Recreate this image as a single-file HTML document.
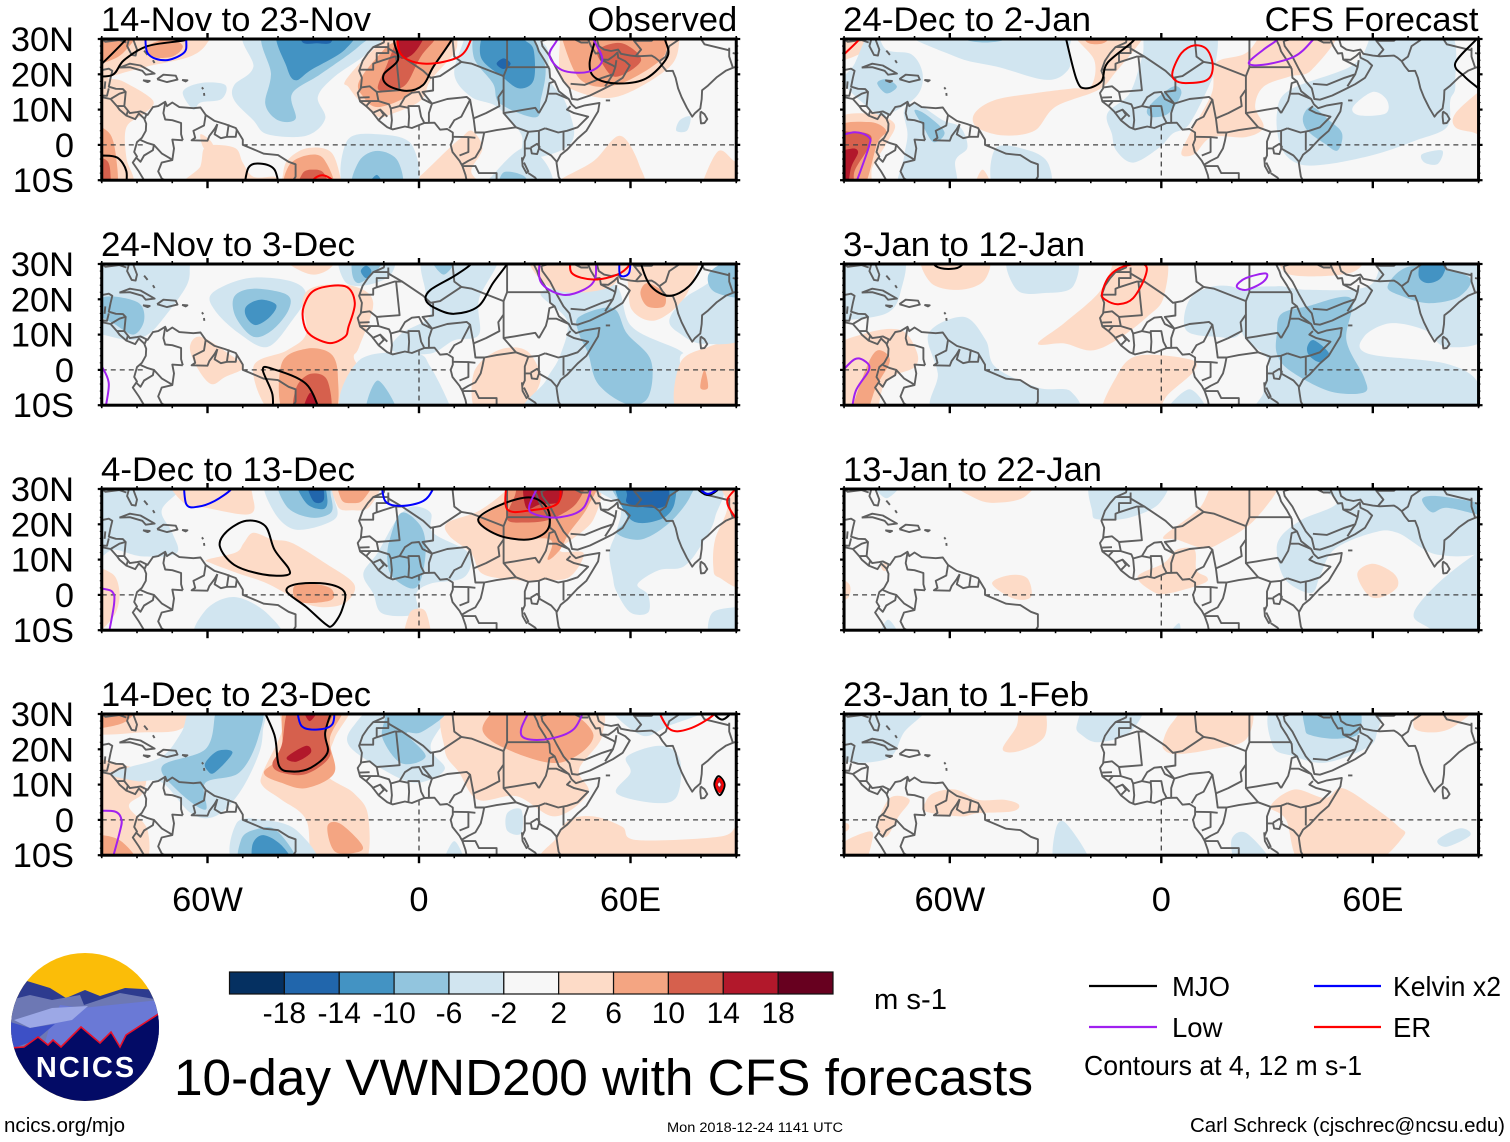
<!DOCTYPE html>
<html lang="en">
<head>
<meta charset="utf-8">
<title>10-day VWND200 with CFS forecasts</title>
<style>
html,body{margin:0;padding:0;background:#fff;}
svg{display:block;}
text{font-family:"Liberation Sans",sans-serif;fill:#000;}
</style>
</head>
<body>
<svg id="chart" xmlns="http://www.w3.org/2000/svg" width="1510" height="1142" viewBox="0 0 1510 1142">
  <g id="panels"></g>
  <g>
    <defs><clipPath id="logoClip"><ellipse cx="85" cy="1027" rx="74" ry="74"/></clipPath></defs>
    <g clip-path="url(#logoClip)">
      <rect x="10" y="950" width="150" height="155" fill="#fbbd08"/>
      <polygon points="10,1000 27,981 50,988 66,998 85,990 100,996 125,988 160,990 160,1060 10,1060" fill="#2d3b8f"/>
      <polygon points="10,1000 30,995 52,1000 80,995 84,1005 120,993 160,1000 160,1060 10,1060" fill="#6d78b4"/>
      <polygon points="60,1005 82,1008 160,1000 160,1060 40,1060 50,1025" fill="#6a79d6"/>
      <polygon points="14,1020 52,1008 88,1006 72,1020 30,1028" fill="#9ca8e6"/>
      <polygon points="10,1022 30,1028 55,1024 36,1040 14,1048 10,1048" fill="#3d50c6"/>
      <polygon points="10,1048 24,1047 38,1037 48,1045 53,1040 61,1047 81,1027 100,1043 111,1032 120,1047 126,1035 160,1013 160,1105 10,1105" fill="#030b66"/>
      <polyline points="10,1048 24,1047 38,1037 48,1045 53,1040 61,1047 81,1027 100,1043 111,1032 120,1047 126,1035 160,1013" fill="none" stroke="#e8102a" stroke-width="1.6"/>
    </g>
    <text x="86" y="1077" text-anchor="middle" font-size="29" font-weight="bold" letter-spacing="2" style="fill:#fff">NCICS</text>
  </g>
  <g id="colorbar"></g>
  <text x="874" y="1009" font-size="29" textLength="73" lengthAdjust="spacingAndGlyphs">m s-1</text>
  <text x="174" y="1095" font-size="51" textLength="859" lengthAdjust="spacingAndGlyphs">10-day VWND200 with CFS forecasts</text>
  <g>
    <line x1="1089" x2="1157" y1="986" y2="986" stroke="#000" stroke-width="2.2"/>
    <text x="1172" y="996" font-size="27.5">MJO</text>
    <line x1="1089" x2="1157" y1="1027" y2="1027" stroke="#a020f0" stroke-width="2.2"/>
    <text x="1172" y="1037" font-size="27.5">Low</text>
    <line x1="1314" x2="1381" y1="986" y2="986" stroke="#0000ff" stroke-width="2.2"/>
    <text x="1393" y="996" font-size="27.5" textLength="108" lengthAdjust="spacingAndGlyphs">Kelvin x2</text>
    <line x1="1314" x2="1381" y1="1027" y2="1027" stroke="#ff0000" stroke-width="2.2"/>
    <text x="1393" y="1037" font-size="27.5">ER</text>
    <text x="1084" y="1075" font-size="27.5" textLength="278" lengthAdjust="spacingAndGlyphs">Contours at 4, 12 m s-1</text>
  </g>
  <text x="4" y="1132" font-size="20.5" textLength="121" lengthAdjust="spacingAndGlyphs">ncics.org/mjo</text>
  <text x="667" y="1132" font-size="13.4" textLength="176" lengthAdjust="spacingAndGlyphs">Mon 2018-12-24 1141 UTC</text>
  <text x="1190" y="1132" font-size="20.3" textLength="315" lengthAdjust="spacingAndGlyphs">Carl Schreck (cjschrec@ncsu.edu)</text>
</svg>
<script>
/* ---------- axes & colour scale values ---------- */
const lonMajorTicks=[-60,0,60];
const lonMajorLabels=["60W","0","60E"];
const lonMinorTicks=[-90,-80,-70,-50,-40,-30,-20,-10,10,20,30,40,50,70,80,90];
const latMajorTicks=[30,20,10,0,-10];
const latMajorLabels=["30N","20N","10N","0","10S"];
const latMinorTicks=[28,26,24,22,18,16,14,12,8,6,4,2,-2,-4,-6,-8];
const colorLevels=[-18,-14,-10,-6,-2,2,6,10,14,18];
const colorClasses=["#053061","#2166ac","#4393c3","#92c5de","#d1e5f0","#f7f7f7","#fddbc7","#f4a582","#d6604d","#b2182b","#67001f"];
const panelTitles=["14-Nov to 23-Nov","24-Nov to 3-Dec","4-Dec to 13-Dec","14-Dec to 23-Dec","24-Dec to 2-Jan","3-Jan to 12-Jan","13-Jan to 22-Jan","23-Jan to 1-Feb"];
const equatorSegments=[[-90,-78],[-50,9],[42,90]];
const meridianSegment=[5.5,-10];

/* ---------- base map (lon, lat) ---------- */
const coastLines=[
[[-90,21.2],[-88,21.6],[-87,21],[-87.5,19],[-88,16.5],[-86,15.9],[-84,15.8],[-83.2,15],[-83.6,11],[-82,9],[-80,9.3],[-79,9.5],[-77,8.5],[-75.5,10.7],[-74,11],[-72,12.2],[-71.5,11],[-70,12],[-68,10.7],[-64,10.4],[-62,10.6],[-60.5,8.5],[-58,6.8],[-55,5.9],[-52,4.8],[-50,1.5],[-50,0],[-48,-0.8],[-44,-2.5],[-40,-2.9],[-37,-4.8],[-35,-5.5],[-35,-9],[-36,-10.5]],
[[-90,13.5],[-87.5,13],[-85.7,11],[-85,10],[-83,8.3],[-80.5,7.3],[-79.5,8.9],[-78,7.5],[-77.4,6],[-77.5,4],[-78.6,2],[-80,0.8],[-80.8,-2],[-80,-3.3],[-81.2,-5],[-79.5,-7.5],[-78,-10]],
[[-82,31],[-82.8,28],[-81.5,25.5],[-80.4,25.3],[-80,27],[-81.3,30.5]],
[[-90,30],[-89,29.2],[-85,29.7],[-83,29]],
[[-85,21.9],[-82,23],[-79,22.5],[-75,20.2],[-77.5,19.9],[-78.5,21],[-82,22],[-85,21.9]],
[[-74.3,18.6],[-72.5,19.9],[-69,19.6],[-68.5,18.5],[-71.5,17.8],[-74.3,18.6]],
[[-78.3,18.3],[-76.4,18.1],[-77,17.8],[-78.3,18.3]],
[[-67.2,18.4],[-65.7,18.3],[-66.2,18],[-67.2,18.4]],
[[-78,26.7],[-77,25.5]],[[-75.5,24],[-75,23.2]],[[-61.6,16.3],[-61.2,15.8]],[[-61,14.7],[-60.9,13.9]],
[[-91,30],[-90,29.5]],
[[-8.5,31],[-9.8,30],[-10,29],[-13,27.7],[-14.5,26],[-16,23.8],[-17,21],[-16.2,19],[-16.5,16],[-17.4,14.7],[-16.7,12.3],[-15,11],[-13.4,9.5],[-11.5,7],[-9,5],[-7.5,4.4],[-4,5.2],[-2,4.8],[0,5.6],[1.5,6.2],[4.4,6.3],[6,4.3],[8,4.5],[9.6,3.5],[9.6,1.5],[9,0],[9.5,-2],[11.5,-4.5],[12.3,-6],[13.2,-8.5],[13.6,-10.5]],
[[32.5,30],[33.5,28],[34,26.5],[35.6,24],[37,21.5],[37.2,19],[38.5,18],[39.7,15.2],[42.5,13],[43.3,11.5],[44.5,10.4],[47,11.2],[51.2,11.9],[50.8,9.5],[49,6.5],[47.5,4],[45,1.8],[42,-1.4],[40.2,-2.8],[39,-5],[39.3,-7],[39.6,-9],[40.5,-10.7]],
[[34.7,29.5],[35,28],[37.2,25],[39,21.5],[41,18],[42.7,16],[43.4,13],[45,12.8],[48.5,14],[52,15.7],[55,17.2],[57.8,19],[59.8,22.5],[58.5,23.7],[56.5,24.7],[56.3,26.2],[55.3,25.2],[53.7,24.1],[51.6,24.2],[51.3,26],[50.1,25.9],[48.8,28],[48,29.8],[49,30.3]],
[[48.5,30.3],[50.5,29.8],[51,28],[52.5,27],[54.5,26.6],[56.5,27],[57.3,25.8],[60,25.3],[62,25.1],[66,25.3],[67,24.7],[68.2,23.7],[69,22.4],[70.2,20.9],[72,21],[72.8,19],[73.5,16],[74.5,13.5],[76,10.5],[77.5,8],[78.3,9],[79.8,10.3],[80.2,13],[80.3,15.5],[82,16.8],[84.5,19.2],[87,21],[89,21.8],[90.5,22.3]],
[[79.9,9.5],[81,8.7],[81.8,7.3],[81,6.2],[80,6.1],[79.8,8],[79.9,9.5]],
[[53,12.6],[54.2,12.6]],
[[31.7,-0.8],[33.5,0.3],[34.2,-0.5],[33.5,-2.6],[32,-2.4],[31.7,-0.8]],
[[29.2,-3.5],[29.4,-6],[30.5,-8],[31,-7.5],[29.8,-5]]
];
const borderLines=[
[[-89,18],[-89.2,15.9]],[[-90,14],[-88.5,13.9],[-88,16]],[[-87.5,13],[-85,14.5],[-83.3,15]],[[-85.7,11],[-83.7,11]],[[-83,8.3],[-82.6,9.6]],[[-77.3,8.6],[-77.9,7.2]],
[[-72,12],[-72.5,9],[-72,7.2],[-70,7],[-67.5,6.2],[-67.5,3],[-67,1.3]],[[-67,1.3],[-70,1.5],[-69.5,-1],[-70,-4.3],[-73,-5],[-74,-7.5],[-73,-9.5],[-70.5,-11]],
[[-60.5,8.5],[-61,5.5],[-64,4],[-63.5,2],[-64.5,1.3],[-60,1.2],[-59.5,2.5],[-58,4.5],[-57.2,5.9]],[[-57.2,5.9],[-58,3],[-56.2,1.9],[-54.5,2.3],[-54,5.8]],[[-54.5,2.3],[-52,2.3],[-51.7,4.3]],
[[-79,1.4],[-77,0.5],[-75.2,0],[-75.5,-1.5],[-78,-3],[-79,-4.8],[-80.3,-3.5]],[[-75.2,0],[-73,-2.4],[-70,-4.2]],
[[-13,27.7],[-8.7,27.7],[-8.7,26],[-12,26],[-12,23.4],[-13,23],[-13,21.3],[-17,21.3]],
[[-8.7,29],[-8.7,27.3],[-4.8,25],[1.2,21],[3.3,19],[6,19.5],[12,23.5],[10,25],[9.5,30]],
[[-12,23.4],[-7,25],[-4.8,25],[-6.5,25],[-5.5,15.5],[-12,15],[-14,16.6],[-16.4,16.3]],
[[4,19],[4,15.4],[1,15],[3.7,11.7],[3,12],[1,13],[0,15],[-2,14.8],[-4,13.5],[-5.5,11],[-8,10.3],[-8.5,11.5],[-11.5,12.4],[-12,15]],
[[12,23.5],[15,23],[24,19.5],[24,15.7],[22.5,13.5],[22.8,11],[19,9],[15.5,7.5],[15,10],[14.5,12.8],[13.5,13.6],[12,13.4],[8,13],[3.7,11.7]],
[[25,30],[25,22],[37,22]],[[25,22],[24,19.5]],
[[24,15.7],[24,9],[27,9.5],[30,10],[33,10.5],[34,9]],[[24,9],[27.5,5],[31,3.7],[34,4],[35.8,4.7]],[[15.5,7.5],[16,3.5],[18.5,3.5],[22,4.2],[27.5,5]],
[[34,9],[36,12.5],[36.5,14.5],[37,17.5],[38.5,18]],[[36.5,14.5],[39,14.5],[42.5,13]],[[43,11],[42,10],[44,9],[48,8],[45,5],[42,4],[39.5,3.5],[35.8,4.7]],
[[41,-1.6],[41,3.9]],[[34,4],[34,1],[34,-1],[37.5,-3],[39,-4.7]],[[30,-1],[30,-3],[29.3,-4.5]],[[31,3.7],[30,1],[30,-1],[31.7,-1]],
[[31,-8],[33,-9.3],[34,-11]],[[12,-5.7],[14,-4.5],[16,-3.5],[17.5,-1],[18,1],[18.5,3.5]],[[16,2],[14,2.2],[9.8,2.3]],[[14,2.2],[14,-2],[11.5,-3]],[[12.3,-6],[16,-6],[17,-8],[22,-8],[22,-11]],
[[8.6,4.7],[10,7],[12,8],[14.5,12.8]],[[2.8,6.4],[2.8,9],[3.7,11.7]],[[1.6,6.1],[0.6,8],[0,11],[-3,11],[-2.8,8],[-3,5]],[[-8,4.4],[-7.7,7],[-8,10.3]],[[-5.5,11],[-3,10.5]],
[[-11.5,7],[-10,8.5],[-11,10]],[[-13.3,9],[-11,10],[-9,8]],[[-16.7,12.4],[-13.7,12.4],[-11.5,12.4]],[[-15,11],[-13.7,12.4]],[[-16.8,13.4],[-14,13.5]],
[[34.9,29.5],[37,30],[39,32]],[[43,17.3],[47,17],[52,19],[55,20],[52.8,16.6]],[[55,20],[55.7,22],[56,24]],[[51.6,24.2],[55,22.5],[55.7,22]],[[48,29],[46,29],[44,30]],
[[61,31],[61,29.5],[63,27],[61.5,25.2]],[[75,32],[74,30],[71,28],[70,25],[68.2,23.7]],[[80,30],[81,28.5],[88,26.8],[88,27.5]],[[88,27],[88,25],[89,22]],[[89,26],[92,25.5]],
[[70,33],[66,29.5],[61,29.5]]
];

const fills14Nov=[
[4,[[-93,33],[-60,33],[-60,29],[-65,25],[-78,22],[-88,19],[-84,18],[-75.5,12.6],[-78,8.8],[-83,5],[-83,-3.6],[-81,-9.4],[-82,-13],[-93,-13]]],
[8,[[-93,33],[-80,33],[-84,26],[-90,23],[-93,22]]],
[8,[[-77,28],[-71,30],[-67,28],[-70,25],[-76,25]]],
[8,[[-93,4],[-88,3.5],[-86,-3],[-86,-13],[-93,-13]]],
[12,[[-93,-4],[-88.5,-4.5],[-87.5,-9],[-88,-13],[-93,-13]]],
[4,[[-65,-13],[-62,-6],[-61,-1],[-58,0],[-52,-1],[-50,-5],[-47,-9],[-41,-9],[-39,-10],[-37.5,-4.6],[-32,-1],[-25,-2],[-22,-10],[-21,-13]]],
[8,[[-37.5,-13],[-37,-6],[-32,-3],[-27,-4],[-24.5,-13]]],
[12,[[-34,-13],[-33,-8],[-30,-7],[-27,-8],[-26,-13]]],
[4,[[-62,3],[-61,-1],[-58,-2],[-59,1]]],
[-4,[[-47.7,33],[-47,22],[-52.4,17],[-52.4,12.6],[-47,7],[-43,3],[-32,2.6],[-26.6,7.4],[-28.7,13.6],[-24,19.3],[-15.8,25],[-10,30],[-9,33]]],
[-8,[[-43,33],[-42,20],[-43.6,11.6],[-40,7],[-35,7.4],[-36,14.5],[-28,20],[-17,28],[-14,33]]],
[-12,[[-39.5,33],[-37.5,22],[-35,18.3],[-30.7,21.2],[-21,27],[-19,33]]],
[-16,[[-33.4,33],[-33,29],[-29,28.8],[-25,29],[-25,33]]],
[4,[[-21,18],[-16,24],[-10,30],[-9,33],[12,33],[11,30],[10,26],[3.3,18.3],[.5,12.6],[-7.6,8.8],[-11.7,8],[-17,12.6],[-20,16.4]]],
[8,[[-17,18],[-10,27],[-6,30],[-6,33],[10,33],[10,30],[6,25],[2,18.3],[-3.5,13.6],[-11.7,10.7],[-15.8,13.6]]],
[12,[[-11.7,16],[-9,23],[-6.3,30],[-6,33],[5,33],[4.6,30],[.5,25],[-3.5,17.4],[-7.5,15.6]]],
[16,[[-5.6,33],[-5.6,25],[-2,25.5],[1.2,30],[1.2,33]]],
[-4,[[12.8,33],[12.8,30],[10,20],[14.8,13.6],[22.3,10.7],[29,3],[29.8,-3.6],[40,-1.7],[44,3],[41.3,12.6],[37.2,18.3],[36.5,27],[33.8,30],[33.8,33]]],
[-8,[[17.5,33],[15.5,25],[21,17.4],[23,11.7],[33,7.8],[34.5,12.6],[35.9,22],[32.5,30],[32.5,33]]],
[-12,[[19.6,33],[17.5,25],[23.6,19.3],[28.4,16],[32.5,18.3],[32.5,27],[29.8,30],[29.8,33]]],
[-16,[[22,23],[24,24.5],[26,23],[24,21.5]]],
[-4,[[-67,15],[-62,17.5],[-55,17],[-56,13],[-62,12],[-64,10]]],
[4,[[40,33],[40,30],[40,20],[44,15.5],[56,13.6],[71,22],[74,30],[74,33]]],
[8,[[40.6,33],[40.6,30],[46,18.3],[56,17],[68.5,24],[70.5,30],[70.5,33]]],
[12,[[50.8,27],[52,23],[56,19.3],[63,24],[57.6,28.8]]],
[4,[[40,-13],[40,-10],[49.5,-4.6],[57,2.6],[62.4,-5.5],[62.4,-13]]],
[4,[[80.7,-13],[80.7,-10],[85,-1.7],[89.5,-4.6],[93,-6],[93,-13]]],
[4,[[-6,-13],[-1,-10],[8.7,-.8],[12,2],[15,4],[18,-1],[14.8,-7.4],[17,-13]]],
[-4,[[19,-13],[21,-8.5],[29.8,-.8],[36.5,-6],[36.5,-13]]],
[-8,[[23,-13],[24,-7.8],[30,-9],[30,-13]]],
[-4,[[-20.5,-13],[-20.5,1],[-11.7,3],[-2,0],[-1.5,-13]]],
[-8,[[-18.5,-13],[-17,-4.6],[-11.7,-1.7],[-6,-4.6],[-5.5,-13]]],
[-12,[[-15,-13],[-12,-8.5],[-10,-13]]],
[-4,[[74,7],[77,8],[76,4],[73,4]]]
];
const lines14Nov=[
["mjo",[[-93,19.5],[-87,19.8],[-83.7,24],[-77,28],[-66.7,29.6],[-63,31]]],
["mjo",[[-93,21],[-90,23],[-83,30],[-81,33]]],
["mjo",[[-7,33],[-7,29],[-6,24],[-10,20],[-9,17],[-3.5,15.3],[1.2,17],[4,22],[9.4,30],[10,33]]],
["mjo",[[50,33],[50,30],[48.4,23],[50,19],[56.3,17.4],[64.4,18.8],[70.5,25],[69.8,30],[69.8,33]]],
["mjo",[[-93,-3],[-90,-3],[-85.6,-3.6],[-83,-7.5],[-83.3,-13]]],
["mjo",[[-49.7,-13],[-48.4,-6.5],[-45,-5.3],[-41,-7],[-39.5,-13]]],
["kelvin",[[-77.6,33],[-77,26],[-72,24],[-66.8,26],[-66,29],[-66.7,33]]],
["er",[[-6.3,33],[-5,25.5],[2,23],[11.4,25],[14.8,30],[15,33]]],
["er",[[-30,-13],[-30,-10],[-27.5,-8.6],[-24.6,-10],[-24,-13]]],
["low",[[39.3,33],[39.3,30],[37,25.5],[40.6,21.2],[48,20.7],[52,24],[49.5,30],[49,33]]]
];
const fills24Nov=[
[-4,[[-93,33],[-65,33],[-65,29.4],[-66,23.7],[-73,14],[-77,10],[-82,8.4],[-90,10],[-93,10]]],
[-8,[[-88.4,20.8],[-79.6,19],[-78,14],[-81,10],[-86.4,13],[-90,15],[-93,18]]],
[-4,[[-58.6,21.8],[-48.4,26],[-36,25],[-32,21],[-36,14],[-43,6.5],[-51,10.3],[-58,17]]],
[-8,[[-52.4,20.8],[-47,23],[-37.5,21.3],[-37,17],[-41.6,11.3],[-47,9.4],[-52,15]]],
[-12,[[-49,18],[-45,19.9],[-40.5,18.4],[-42.3,15],[-46.3,12.7],[-49,15]]],
[-4,[[-22,33],[-21,25],[-15,24],[-8,27],[-8,33]]],
[-8,[[-19,27.5],[-17,24.6],[-11.7,28.5],[-10,33],[-18,33]]],
[-12,[[-16.5,28],[-15,26],[-13.5,28],[-15,29.5]]],
[4,[[-39,33],[-36,29.4],[-30,27],[-25,29],[-24,33]]],
[4,[[-33,19.9],[-29,23.7],[-18.5,23.7],[-13,19],[-17,6.5],[-18.5,3.6],[-17,-2],[-25,-13],[-41,-13],[-47,.8],[-37.5,5.5],[-32,10.3]]],
[8,[[-38,-13],[-39,1.7],[-32,6],[-25,4.6],[-23,-2],[-24.6,-13]]],
[12,[[-35,-13],[-34.8,-5],[-30.7,-1.1],[-26,-3],[-25.5,-13]]],
[16,[[-33,-13],[-30.7,-6.4],[-28,-13]]],
[4,[[-65,6.5],[-62,9.4],[-54,4.6],[-49.7,.8],[-55,-2],[-59,-4],[-63,.8]]],
[-4,[[-21,-13],[-17,2.7],[-1,4.6],[3.3,.8],[8.7,-10],[9,-13]]],
[-8,[[-15,-13],[-11.7,-3],[-6,-13]]],
[-4,[[-5,10.3],[3,15],[1.9,21.8],[2,33],[22,33],[17,20],[17,10],[10,8.4],[3,4.6],[-7.6,5.5]]],
[-8,[[3,33],[7,27],[11,33]]],
[4,[[17,-13],[15.5,-1],[22.3,5.5],[30.4,5.5],[34.5,-2],[31.8,-9],[31,-13]]],
[-4,[[34.5,21.8],[46,24],[56,23.7],[60.4,12.2],[74,5.5],[74,2.7],[74,-13],[31.5,-13],[36,-3],[40,4],[42,14]]],
[4,[[74,-13],[74,1.7],[82,6.5],[90,8.4],[93,8],[93,-13]]],
[-8,[[45.4,15],[55,17.5],[59,10.3],[65.8,2.7],[65,-7.8],[59,-9.7],[50.8,-4],[48,4.6],[45.4,10.3]]],
[8,[[79.8,-5],[81,0],[82,-5]]],
[4,[[59,25.6],[60.4,17],[67,14],[75,20],[79.4,30],[79.4,33],[55,33]]],
[4,[[33,33],[34,26],[42,22],[55,24],[57,33]]],
[8,[[62.8,21.8],[64.8,18],[69.5,18],[69.5,21.8],[64.8,24.6]]],
[-4,[[75,20],[80.7,23.7],[90,29.4],[93,29],[93,10],[80.7,7.4],[74,10.3],[71,14]]],
[-8,[[82,26.6],[86,30],[93,30],[93,21],[84,22]]]
];
const lines24Nov=[
["er",[[-32.7,18],[-29.4,22.7],[-21,23.7],[-18.2,19],[-20,12.2],[-21,9.4],[-25.3,7.6],[-30.7,9.8],[-32.7,13.2],[-32.7,18]]],
["mjo",[[-41.6,-13],[-41.6,-6.9],[-44.3,0],[-41.6,.3],[-32,-4],[-27.7,-13]]],
["mjo",[[16,33],[14.8,30],[10,26.6],[3.3,22.7],[1.9,19.9],[4.6,17.5],[10,15.9],[16.8,18],[21,24.6],[25,30],[26,33]]],
["mjo",[[63,33],[63,30],[65.8,23.7],[71,21],[76.6,23.7],[80.7,30],[81,33]]],
["low",[[34.5,33],[34.5,25],[40.6,21.3],[46.7,22.7],[50,26],[50,33]]],
["er",[[43.3,33],[43.3,27.5],[49.5,25.6],[56.3,27],[60,30],[61,33]]],
["kelvin",[[57,33],[57,27],[59.6,27.5],[60,33]]],
["low",[[-90,1],[-88,-4],[-89.4,-13]]]
];
const fills4Dec=[
[-4,[[-93,33],[-67.4,33],[-67.4,30],[-73,24],[-70,17.6],[-68.8,11.8],[-78.5,10.9],[-86.3,12.8],[-90,10.9],[-93,10]]],
[4,[[-70,33],[-66.7,26],[-60.5,24.7],[-48.4,22.8],[-47,27],[-51,33]]],
[-4,[[-43,33],[-41.6,24.3],[-35,18.5],[-24,21.4],[-24,27],[-26.6,33]]],
[-8,[[-39.6,33],[-37.5,25],[-30.7,21.9],[-25,23.3],[-25,28],[-27,33]]],
[-12,[[-35,33],[-32,26],[-27.2,24.3],[-26,27],[-28,33]]],
[-16,[[-32,33],[-30,26.6],[-27,27],[-28,33]]],
[4,[[-24,33],[-23,25],[-19,24],[-14,25],[-11,33]]],
[8,[[-22.5,33],[-22,27],[-19,26],[-15.8,27],[-13,33]]],
[4,[[-60,10],[-52,12],[-49.7,14.7],[-47,17.6],[-41.6,15.7],[-36,14.7],[-26.6,9],[-18.5,3.2],[-20,-1.5],[-25,-3.4],[-32,-2.5],[-43,3.2],[-51,6],[-59,9]]],
[8,[[-35.5,2.3],[-30.7,3.2],[-25,1.8],[-25,-1.5],[-34,-2]]],
[-4,[[-62.6,-13],[-60.6,-4.4],[-52.4,-.6],[-43,-5.3],[-39.6,-13]]],
[4,[[-93,6],[-87,6],[-85,1],[-86,-5],[-90,-10],[-93,-13]]],
[-4,[[-15.8,6],[-11.7,12],[-6.3,21.4],[-2,25],[3.3,23.3],[4,17.6],[14.1,11.8],[12.8,5],[3.3,3.2],[-.8,.4],[-.8,-5.3],[-10.3,-5.3],[-13,.4]]],
[-8,[[-8.3,15.7],[-5,23.3],[.5,19.5],[1.9,12.8],[.5,4.2],[-2.2,1.8],[-7.6,5.2],[-9,10]]],
[4,[[8,20.4],[17,23.8],[25,30],[25,33],[49.5,33],[49.5,21.4],[40,12.8],[46.7,11.8],[42.6,5],[34.5,4.2],[27.7,4.2],[18,6],[14.8,11.8],[8.7,16.6]]],
[4,[[-4,-13],[-3,-6],[-1,-4],[2,-5],[3,-13]]],
[8,[[17,20.9],[23.6,26],[29,33],[49.5,33],[48,25.2],[42.6,17.6],[40,12.8],[36.5,10],[37.2,15.7],[25,16]]],
[12,[[25,21.4],[27,27.6],[30.4,33],[46,33],[44.7,26],[37.2,21.4],[30,20.5]]],
[16,[[30.4,33],[30.4,24.7],[34.5,25.7],[40,26.6],[40,33]]],
[-4,[[50,33],[50,30],[57,25],[56,18],[54,12],[55,5],[56,1],[60,-5],[65,-5],[65,0],[62,3],[68,7],[75,8],[80,14],[84,22],[84,33]]],
[-4,[[83,-13],[83,-5.3],[90,-3.4],[93,-3],[93,-13]]],
[-8,[[55,33],[59,22.3],[56,17.6],[63,15.7],[71,20.4],[77,28],[76.6,33]]],
[-12,[[56,33],[60,21.4],[68.5,21.4],[72.5,26],[71,33]]],
[-16,[[59,28.5],[59.6,25.7],[68.5,24.7],[71,28],[69,33],[59,33]]],
[4,[[83.5,8],[84,15.7],[87.5,25],[85,33],[93,33],[93,4],[85,5]]]
];
const lines4Dec=[
["kelvin",[[-66.8,33],[-66,25.7],[-62.6,25],[-58,26.6],[-53.2,30],[-52,33]]],
["kelvin",[[-10.7,33],[-9.6,26.6],[-4.9,25.2],[1.2,26.6],[4,30],[5,33]]],
["mjo",[[-56.5,13.8],[-54.5,18],[-49,21],[-43.6,19.5],[-41,12.8],[-37,7.5],[-37.5,5.6],[-44.3,5.8],[-52.4,8.5],[-56.5,13.8]]],
["mjo",[[-37.5,.9],[-35,3],[-26.6,3.2],[-21.2,.9],[-21.9,-4.4],[-24.6,-8.7],[-26.6,-8.2],[-32,-3.4],[-37.5,.9]]],
["mjo",[[16.8,21.4],[23.6,25.7],[31.8,27.6],[36.5,24.3],[36.5,18.5],[31,15.7],[22.3,17],[16.8,21.4]]],
["er",[[25,33],[25,24.3],[31.8,24],[39.4,26],[40,33]]],
["low",[[35,33],[31.3,25.2],[33,22.8],[40,22],[46.7,24.7],[49.5,33]]],
["low",[[-90,1.8],[-87,.9],[-86.5,-2.5],[-88.4,-13]]],
["mjo",[[76,33],[82,28.3],[88,33]]],
["kelvin",[[78,32],[82,28.6],[87.5,32]]],
["er",[[92,32],[87.5,27],[89.5,22.3],[92,20]]]
];
const fills14Dec=[
[4,[[-93,33],[-63,33],[-67.4,25.8],[-78.4,24.8],[-93,24.8]]],
[8,[[-93,33],[-80,33],[-83,28],[-90,26],[-93,26]]],
[4,[[-90,17.2],[-78.4,13.4],[-78.4,7.6],[-82.3,3.8],[-77,-2.9],[-78.4,-13],[-93,-13],[-93,17]]],
[8,[[-93,-5],[-85,-5.7],[-80,-13],[-93,-13]]],
[-4,[[-63,33],[-67.4,24.8],[-72.8,18],[-82,15],[-88,13],[-80,11],[-72.8,10.5],[-64.7,1.9],[-57.9,1],[-51,7.6],[-45.7,18],[-44.3,25],[-45,33]]],
[-8,[[-72.8,15.3],[-60.6,20],[-57.9,29.6],[-57.9,33],[-45,33],[-45.7,23],[-51,13.4],[-60.6,10.5],[-60.6,2.9],[-68.8,8.6]]],
[-12,[[-60.6,16.2],[-57,19.6],[-52.9,19],[-58,13.4],[-60,14]]],
[4,[[-44.3,13.4],[-39,24.8],[-38.2,33],[-19.8,33],[-24,23],[-26.6,13.4],[-18.5,7.6],[-14.4,1],[-15.8,-13],[-29.3,-13],[-32,0],[-39,5.7],[-44.3,9.6]]],
[8,[[-44,13.4],[-39,19],[-37.5,33],[-21.6,33],[-25.3,23],[-24,13.4],[-32,9],[-39,10.5]]],
[12,[[-41.6,15.8],[-39,21],[-36,33],[-24,33],[-26.6,24.8],[-25.3,18],[-32,13],[-39,13.4]]],
[16,[[-37.5,17.7],[-32,21],[-30.7,19],[-34.8,16.5]]],
[16,[[-33,33],[-31,28],[-28,33]]],
[8,[[-26,-1.9],[-22.5,-1],[-16.4,-6.7],[-17,-9],[-23.8,-9]]],
[-4,[[-51.8,-1],[-44.3,0],[-34.8,-2.9],[-29.3,-13],[-51.8,-13]]],
[-8,[[-50.5,-5.7],[-47,-2.9],[-40.5,-2.9],[-34.8,-13],[-50,-13]]],
[-12,[[-47.3,-7.2],[-44.3,-4.3],[-39,-7.2],[-36,-13],[-46,-13]]],
[-4,[[-18.5,26.7],[-10.3,33],[8.7,33],[3.3,21],[7.3,14.3],[-.8,10.5],[-10.3,14.3],[-19.8,21]]],
[-8,[[-9.6,29],[-9,33],[7.3,33],[7.3,29.6],[.5,24.8],[-3.5,24.4],[1.9,18],[-4.9,16],[-10.3,23]]],
[4,[[10,33],[48,33],[52,24],[45.4,14.3],[48,7.6],[38.6,1],[27.7,6.7],[16.8,5.7],[11.4,13.4],[7.3,20]]],
[8,[[18,25.8],[25,33],[38.6,33],[49.5,24],[40,16.2],[25,20]]],
[-4,[[25,1.9],[29,2.9],[29,-3.8],[25,-3]]],
[-4,[[7,-13],[10,-6],[13,-13]]],
[-4,[[55.5,33],[63,24],[71,26.7],[85,33]]],
[-4,[[59,18],[68.5,21],[74,17.2],[73.2,6.7],[67,4.8],[56,7.6],[60,13.4]]],
[4,[[42.7,0],[49.5,1],[57.6,-1.9],[61.7,-5.7],[85,-4.8],[90,-1.9],[93,-1],[93,-13],[38,-13],[39,-5]]],
[16,[[84,10],[85,12],[86.3,10],[85.4,7.5]]],
[0,[[84.8,10],[85.2,10.6],[85.6,10],[85.2,9.4]]]
];
const lines14Dec=[
["mjo",[[-45,33],[-41,24],[-39.7,15.3],[-36,13.7],[-30.7,14.8],[-26,19],[-26.6,24.8],[-24,33]]],
["kelvin",[[-34.8,33],[-33.4,26.7],[-28.7,25.6],[-24.5,27.2],[-24,33]]],
["low",[[32.5,33],[29,25.8],[30.4,23],[37.2,23],[44,25.8],[47.5,33]]],
["er",[[67,33],[71,25.8],[76.6,25.8],[83.4,29.6],[85,33]]],
["mjo",[[82,32],[86,28.4],[90,32]]],
["low",[[-93,2.5],[-86.4,2.4],[-84.4,0],[-85,-3.8],[-87.5,-13]]],
["mjo",[[83.8,10],[85,12.4],[86.7,10],[85.3,7],[83.8,10]]],
["er",[[84.3,10],[85.2,11.7],[86.2,10],[85.3,8],[84.3,10]]]
];
const fills24Dec=[
[4,[[-93,33],[-82,33],[-84,27],[-90,24],[-93,24]]],
[-4,[[-82,33],[-87,23],[-90,17.5],[-81,9],[-78,8.4],[-69.5,13.7],[-67.7,20],[-70.8,25.6],[-78,27]]],
[-4,[[-72,33],[-58.4,25],[-46,22],[-32.5,18.4],[-26.4,21.3],[-26.4,26],[-30,33]]],
[-8,[[-80.6,17.5],[-78,18.6],[-75,16.5],[-78,14.6]]],
[-8,[[-56,33],[-56,30],[-50,29],[-44,30],[-44,33]]],
[-4,[[-73,9.8],[-69.5,11.7],[-62,7],[-57,5],[-55,-.7],[-58.4,-4.5],[-59,-13],[-74,-13],[-73,-3.5],[-72,3]]],
[-8,[[-70,9.8],[-66.5,8.4],[-61.5,3.6],[-64.6,.8],[-67.7,5.5]]],
[-4,[[-47,-1],[-37.5,-1.6],[-32,-5.4],[-32.5,-13],[-47,-13]]],
[4,[[-53,-13],[-50.7,-7],[-48,-13]]],
[4,[[-53,8.9],[-47.3,12.7],[-36.2,14.6],[-25,16],[-20,16.5],[-19,24],[-25,33],[-5.4,33],[-5.4,30],[-12.8,20.8],[-17.8,15.6],[-30,10.8],[-36,4],[-45,2.7],[-52.3,5]]],
[8,[[-22,33],[-21,29],[-16,29],[-14,33]]],
[4,[[-93,6],[-83,8.9],[-75.7,6],[-78,.3],[-82,-6.4],[-83,-13],[-93,-13]]],
[8,[[-93,4],[-83,6.5],[-78,4],[-80.6,.3],[-85,-13],[-93,-13]]],
[12,[[-93,2.2],[-87,3.6],[-82.5,2.7],[-83,-.7],[-87,-7.4],[-87.5,-13],[-93,-13]]],
[16,[[-93,-3.5],[-88,-1.1],[-86,-2.1],[-88,-6.4],[-89.4,-13],[-93,-13]]],
[-4,[[-14,3],[-15.3,8.9],[-9,14.6],[-5.4,25],[-3,33],[14.3,33],[15.5,23],[14.3,18.4],[8,6],[3.2,3.2],[-.5,-.7],[-7.9,-5],[-12.8,-1.6]]],
[-8,[[-3.6,10.8],[3.2,16.5],[5.7,14.6],[2,8.9],[-3,8]]],
[4,[[5.7,-2.6],[8.1,3.2],[14.3,14.6],[15.5,23.2],[24,26],[31.6,33],[50,33],[42.7,21.3],[36.5,19.4],[29,16.5],[26.6,10.8],[29,5],[24,2.2],[14.3,2.2],[9.4,-2.6]]],
[-4,[[32.8,8.9],[36.5,15.6],[53.8,22.3],[58.7,29],[58.7,33],[81,33],[83.4,17.5],[82,12.7],[81,5],[72,1.2],[61,-2.6],[47.6,-5.4],[39,-5.4],[34,-.7]]],
[0,[[54.4,10.8],[60,15],[64,12.7],[63.6,8.9],[56,8.4]]],
[-8,[[40.2,7.9],[42.7,10.8],[47.6,7],[51.3,3.2],[50,-1.6],[46.4,.3],[41.4,4.1]]],
[-4,[[74,-2.6],[79.7,-1.6],[78.4,-5.4],[74.7,-5]]],
[4,[[93,17],[90.7,15.6],[83.4,8.9],[83.4,5],[88.3,3.6],[93,3]]]
];
const lines24Dec=[
["mjo",[[-27.5,33],[-27,30],[-24,18.4],[-21.5,16],[-17,18],[-15.3,23.2],[-8,29.4],[-6,33]]],
["er",[[3.2,20.8],[5.7,26],[9.4,28.2],[13,27],[14.6,22.3],[13,18.4],[6.9,17.5],[3.8,18.4],[3.2,20.8]]],
["low",[[24.8,23.2],[29,27],[32.8,29.7],[36,33],[45,33],[42.7,29.4],[37.7,25],[29,22.7],[24.8,23.2]]],
["er",[[-92,23],[-90,25.6],[-85.6,30],[-84,33]]],
["low",[[-93,2],[-87,3.6],[-83,2.2],[-83,-.7],[-87.4,-13]]],
["mjo",[[92,33],[89.5,30],[83.4,23.2],[86,19.4],[90,16],[92,14]]]
];
const fills3Jan=[
[-4,[[-93,33],[-74,33],[-74,22],[-78,16],[-90,14],[-93,14]]],
[4,[[-67.3,33],[-65.4,24.7],[-57,22.7],[-50,25.6],[-50,33]]],
[-4,[[-43,33],[-41,22.7],[-32.5,21.8],[-25,23.7],[-25,33]]],
[4,[[-93,5],[-84,10.3],[-74,11.3],[-69.5,5.5],[-70,.8],[-78,-3],[-82,-13],[-93,-13]]],
[8,[[-88,-13],[-84,-.2],[-80.6,5.5],[-77,2.7],[-81,-5],[-84,-13]]],
[-4,[[-66,10.3],[-56,15],[-49.8,8.4],[-47,.8],[-35,-5],[-25.8,-6],[-26,-13],[-63,-13],[-63.4,-1]]],
[4,[[-16.5,-13],[-12.8,-2],[-6.7,4],[8,3],[9.4,-.2],[2,-6.9],[-3,-13]]],
[-4,[[1,-13],[8,-5.5],[13,-13]]],
[4,[[-35,7.4],[-27.6,13.2],[-17.8,21.8],[-14,29.3],[-14,33],[.7,33],[.7,20.7],[-4,15],[-12.8,8.4],[-20,5.5],[-27.6,7.5]]],
[4,[[35.3,33],[36.5,27],[53.8,27.5],[56,33]]],
[-4,[[22.3,21.8],[23,10.3],[30.4,2.7],[29,-6],[31.6,-13],[87,-13],[90,-4],[81,1.7],[58.7,4.6],[57.5,9.4],[64.9,13.2],[74.7,11.3],[81,6.5],[93,10.3],[93,33],[66,33],[58.7,23.7],[41.4,22.7],[32.8,23.7]]],
[-4,[[7,11.3],[8,19.9],[15,23.7],[23,21.8],[22.3,10.3],[15.5,9.4]]],
[-8,[[32.8,10.3],[34,15.8],[41.4,18],[53.8,20.3],[52.5,8.4],[57.5,-2],[57.5,-6.4],[47.6,-6],[36.5,-.2],[32.8,4.6]]],
[-12,[[41.4,6.5],[43.3,8.4],[47.6,4.6],[45,2.2],[42,4]]],
[-8,[[64.2,23.7],[71,29.4],[87,26.5],[84.6,20.8],[76,18.9],[68.6,20.8]]],
[-12,[[73,26.7],[74.7,33],[81,33],[79.7,26.5],[75.7,24.6]]]
];
const lines3Jan=[
["mjo",[[-66,33],[-64,29.4],[-59.7,28.6],[-56.6,29.7],[-56,33]]],
["er",[[-16.8,21.8],[-14.7,26.6],[-10.4,29.4],[-4.8,29.8],[-4.5,26.6],[-8,20.3],[-12.2,18.6],[-15.9,19.9],[-16.8,21.8]]],
["low",[[21.4,23.7],[24,26],[29.7,27.3],[29,25],[24.2,22.7],[21.4,23.7]]],
["low",[[-92,-2],[-87,3],[-83.7,2.2],[-83,-.2],[-86.7,-6],[-88,-13]]]
];
const fills13Jan=[
[-4,[[-82,33],[-78,27.4],[-73,33]]],
[4,[[-59.7,33],[-52,27],[-45,26.2],[-38.5,28],[-37,33]]],
[-4,[[-19.6,23.6],[-19,33],[.7,33],[-.5,26],[-9,21.9],[-17.8,21.4]]],
[4,[[.7,16.6],[10.6,24.3],[16.8,33],[33.4,33],[26.6,21.4],[16.8,14.7],[11.8,13.3],[4.4,15.7]]],
[4,[[-6.7,5.2],[.7,9],[4.4,12.8],[9.4,12.8],[10,7],[13,5],[11.8,3.2],[2,.4],[-2.3,.9]]],
[4,[[-48,3.2],[-43,5.6],[-38,4.7],[-37,-.6],[-42,-1]]],
[4,[[-93,5],[-88.5,3],[-89,-1],[-93,-1]]],
[4,[[-79.5,8.5],[-78,9],[-78,7],[-79,7]]],
[-4,[[-80,-13],[-77.5,-7],[-74,-13]]],
[-4,[[1,-13],[5,-8],[5,-13]]],
[-4,[[32.8,11.8],[34,16.6],[40,21.4],[50,26.2],[45.2,33],[93,33],[93,13.8],[78.4,11.4],[67,17.6],[60,17.6],[49,12.8],[45,5.2],[42.5,.5],[35.3,4.2]]],
[-8,[[74,27.1],[78.4,28],[89.5,26.2],[93,25],[93,22],[89.5,22.8],[80.9,24.7],[76.7,23.4]]],
[-4,[[71.6,-5.3],[78.4,3.2],[89.5,11.8],[93,12],[93,-13],[83,-13],[75.7,-9.2]]],
[4,[[55.6,6],[60,8.8],[66,6],[67,2.3],[62.7,-.6],[58.7,-.1]]]
];
const lines13Jan=[];
const fills23Jan=[
[-4,[[-93,33],[-67,33],[-73,24.8],[-78,17.2],[-93,18]]],
[4,[[-45,20],[-41,26.7],[-40,33],[-33.7,33],[-33,23.9],[-40,19.6]]],
[-4,[[-24,26.7],[-20,33],[-5.4,33],[-9,24.8],[-17.8,22],[-22.5,24]]],
[4,[[.7,23],[3.2,27.7],[9.4,33],[24.8,33],[24.2,23],[14.3,20],[4.4,18.6],[.7,20]]],
[-4,[[31.6,21],[32.8,33],[60,33],[61,24],[57.5,20],[46.4,16.2],[37.7,18]]],
[-8,[[40.8,25.8],[41.4,33],[55,33],[56.2,24.8],[50,23],[42.7,23.9]]],
[4,[[71.6,26.3],[74.7,33],[89.5,33],[83.4,26.7],[77.4,24.8]]],
[4,[[-67,4.8],[-64.6,7.6],[-58.4,8.6],[-52,5.7],[-44.6,5.7],[-40.4,4.3],[-42.3,2.4],[-52,1.9],[-57,1],[-67,2.4]]],
[4,[[-78,-4.8],[-80.6,-1.9],[-77,6.2],[-71.4,5.7],[-74.5,1]]],
[4,[[-93,-13],[-91,-7],[-83,-3.3],[-82,-5.7],[-85,-13]]],
[4,[[-93,-1],[-89,-1],[-89,-3],[-93,-4]]],
[4,[[31,3.8],[37.7,8.6],[46.4,6.2],[51.3,9],[60,3.8],[67.3,-1.9],[68.6,-4.8],[58.7,-13],[40.3,-13],[35.4,0]]],
[-4,[[-30,-2.9],[-27,-1],[-20,-13],[-30,-13]]],
[-4,[[19.9,-5.7],[24.2,-3.8],[31.6,-13],[22,-13]]],
[-4,[[78.4,-5.7],[84.6,-2.4],[87.7,-4.3],[81,-7.6]]]
];
const lines23Jan=[];

/* ---------- figure layout ---------- */
const lonScale=3.525, latScale=3.53;
const lineColors={mjo:"#000",low:"#a020f0",kelvin:"#0000ff",er:"#ff0000"};
const NS="http://www.w3.org/2000/svg";
const allFills=[fills14Nov,fills24Nov,fills4Dec,fills14Dec,fills24Dec,fills3Jan,fills13Jan,fills23Jan];
const allLines=[lines14Nov,lines24Nov,lines4Dec,lines14Dec,lines24Dec,lines3Jan,lines13Jan,lines23Jan];
const titleWidths=[270,254,254,270,248,242,259,246];

function add(parent,tag,attrs,text){
  const el=document.createElementNS(NS,tag);
  for(const k in attrs) el.setAttribute(k,attrs[k]);
  if(text!==undefined) el.textContent=text;
  parent.appendChild(el);
  return el;
}
function colorFor(v){
  let i=0;
  while(i<colorLevels.length&&v>=colorLevels[i]) i++;
  return colorClasses[i];
}
function smoothPath(pts,closed){
  const n=pts.length;
  const at=i=>closed?pts[(i+n)%n]:pts[Math.max(0,Math.min(n-1,i))];
  let d="M"+pts[0][0].toFixed(1)+" "+pts[0][1].toFixed(1);
  const segs=closed?n:n-1;
  for(let i=0;i<segs;i++){
    const p0=at(i-1),p1=at(i),p2=at(i+1),p3=at(i+2);
    d+="C"+(p1[0]+(p2[0]-p0[0])/6).toFixed(1)+" "+(p1[1]+(p2[1]-p0[1])/6).toFixed(1)+" "+
       (p2[0]-(p3[0]-p1[0])/6).toFixed(1)+" "+(p2[1]-(p3[1]-p1[1])/6).toFixed(1)+" "+
       p2[0].toFixed(1)+" "+p2[1].toFixed(1);
  }
  return d+(closed?"Z":"");
}

const panelsRoot=document.getElementById("panels");
const defs=add(panelsRoot,"defs",{});

panelTitles.forEach(function(title,idx){
  const col=idx<4?0:1, row=idx%4;
  const zeroX=col===0?419:1161.3;
  const top=39+row*225;
  const X=lon=>zeroX+lon*lonScale;
  const Y=lat=>top+(30-lat)*latScale;
  const left=X(-90), right=X(90), bottom=Y(-10), w=right-left, h=bottom-top;

  const g=add(panelsRoot,"g",{});
  
  

  const cp=add(defs,"clipPath",{id:"clip"+idx});
  add(cp,"rect",{x:left,y:top,width:w,height:h});

  const body=add(g,"g",{"clip-path":"url(#clip"+idx+")"});
  const bg=add(body,"rect",{x:left,y:top,width:w,height:h,fill:"#f7f7f7"});
  
  

  const order=v=>v===0?100:Math.abs(v);
  allFills[idx].slice().sort((a,b)=>order(a[0])-order(b[0])).forEach(function(f){
    const p=add(body,"path",{d:smoothPath(f[1].map(q=>[X(q[0]),Y(q[1])]),true),fill:colorFor(f[0])});
    
    
  });

  equatorSegments.forEach(function(s){
    const l=add(body,"line",{x1:X(s[0]),x2:X(s[1]),y1:Y(0),y2:Y(0),stroke:"#444","stroke-width":1.3,"stroke-dasharray":"5 4"});
    
    
  });
  const mer=add(body,"line",{x1:X(0),x2:X(0),y1:Y(meridianSegment[0]),y2:Y(meridianSegment[1]),stroke:"#444","stroke-width":1.3,"stroke-dasharray":"5 4"});
  
  

  const toPts=a=>a.map(q=>X(q[0]).toFixed(1)+","+Y(q[1]).toFixed(1)).join(" ");
  const map=add(body,"g",{fill:"none",stroke:"#5f5f5f","stroke-width":1.9,"stroke-linejoin":"round"});
  
  
  coastLines.concat(borderLines).forEach(function(c){ add(map,"polyline",{points:toPts(c)}); });

  allLines[idx].forEach(function(c){
    const pts=c[1].map(q=>[X(q[0]),Y(q[1])]);
    const first=c[1][0], last=c[1][c[1].length-1];
    const closed=first[0]===last[0]&&first[1]===last[1];
    const path=add(body,"path",{d:smoothPath(closed?pts.slice(0,-1):pts,closed),fill:"none",stroke:lineColors[c[0]],"stroke-width":2});
    
    
  });

  const ticks=add(g,"g",{stroke:"#000","stroke-width":1.6});
  
  
  lonMajorTicks.forEach(function(t){
    add(ticks,"line",{x1:X(t),x2:X(t),y1:top-6,y2:top,"stroke-width":2.4});
    add(ticks,"line",{x1:X(t),x2:X(t),y1:bottom,y2:bottom+8,"stroke-width":2.4});
  });
  lonMinorTicks.forEach(function(t){
    add(ticks,"line",{x1:X(t),x2:X(t),y1:top-3,y2:top});
    add(ticks,"line",{x1:X(t),x2:X(t),y1:bottom,y2:bottom+3});
  });
  latMajorTicks.forEach(function(t,i){
    add(ticks,"line",{x1:left-4,x2:left,y1:Y(t),y2:Y(t),"stroke-width":2.2});
    add(ticks,"line",{x1:right,x2:right+4,y1:Y(t),y2:Y(t),"stroke-width":2.2});
  });
  latMinorTicks.forEach(function(t){
    add(ticks,"line",{x1:left-2,x2:left,y1:Y(t),y2:Y(t),"stroke-width":1});
    add(ticks,"line",{x1:right,x2:right+2,y1:Y(t),y2:Y(t),"stroke-width":1});
  });

  const frame=add(g,"rect",{x:left,y:top,width:w,height:h,fill:"none",stroke:"#000","stroke-width":3});
  
  

  const t=add(g,"text",{x:col===0?101:843,y:top-8,"font-size":34.4,textLength:titleWidths[idx],lengthAdjust:"spacingAndGlyphs"},title);
  
  

  if(col===0){
    latMajorTicks.forEach(function(lat,i){
      const lb=add(g,"text",{x:74,y:Y(lat)+12,"font-size":34.4,"text-anchor":"end"},latMajorLabels[i]);
      
      
    });
  }
  if(row===3){
    lonMajorTicks.forEach(function(lon,i){
      const lb=add(g,"text",{x:X(lon),y:bottom+56,"font-size":34.4,"text-anchor":"middle"},lonMajorLabels[i]);
      
      
    });
  }
  if(idx===0){
    const o=add(g,"text",{x:right+1,y:top-8,"font-size":34.6,"text-anchor":"end"},"Observed");
    
    
  }
  if(idx===4){
    const o=add(g,"text",{x:right,y:top-8,"font-size":34.7,"text-anchor":"end"},"CFS Forecast");
    
    
  }
});

/* colour bar */
const cb=document.getElementById("colorbar");
const cbLeft=229.5, cbWidth=603.5, cbTop=972, cbHeight=22;
const cell=cbWidth/colorClasses.length;
colorClasses.forEach(function(c,i){
  const r=add(cb,"rect",{x:cbLeft+i*cell,y:cbTop,width:cell,height:cbHeight,fill:c,stroke:"#111","stroke-width":1.2});
  
  
});
colorLevels.forEach(function(v,i){
  const t=add(cb,"text",{x:cbLeft+(i+1)*cell,y:1023,"font-size":30,"text-anchor":"middle"},String(v));
  
  
});
</script>
</body>
</html>
